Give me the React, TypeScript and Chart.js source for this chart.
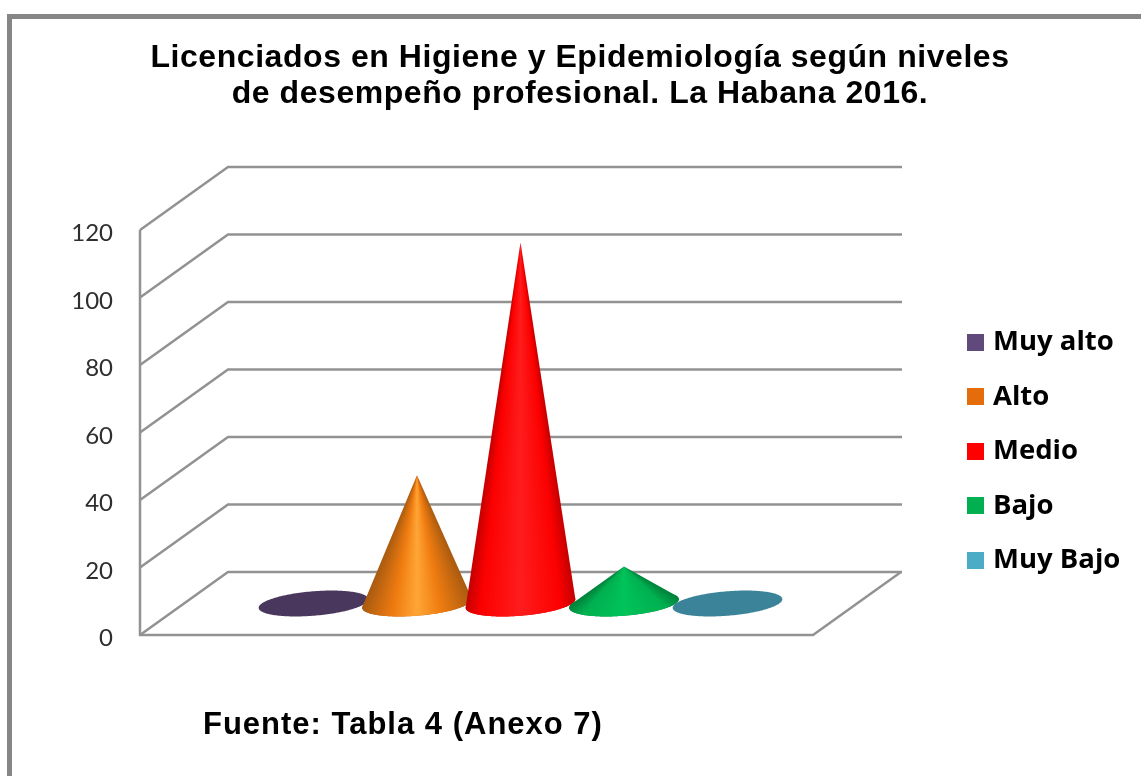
import React, { useEffect, useRef } from "react";
import { Chart, registerables } from "chart.js";

Chart.register(...registerables);

const titleLines = [
  "Licenciados en Higiene y Epidemiología según niveles",
  "de desempeño profesional. La Habana 2016.",
];
const sourceNote = "Fuente: Tabla 4 (Anexo 7)";
const categoryLabels = ["Nivel de desempeño"];
const seriesNames = ["Muy alto", "Alto", "Medio", "Bajo", "Muy Bajo"];
const seriesValues = [0, 38, 107, 11, 0];
const legendColors = ["#604a7b", "#e46c0a", "#ff0000", "#00b050", "#4bacc6"];
const floorColors = ["#4a375e", "#b85a0c", "#e00000", "#008a40", "#3a8399"];
const coneEdgeColors = ["#3c2c4e", "#a85a10", "#c40000", "#007f3a", "#2f6f80"];
const coneMidColors = ["#604a7b", "#f07c10", "#fc0000", "#00b050", "#4bacc6"];
const coneLightColors = ["#7a6396", "#ffa636", "#ff1c1c", "#00c45a", "#6cc4da"];
const coneMidStops = [0.3, 0.3, 0.14, 0.2, 0.3];

const DEPTH_X = 88;
const DEPTH_Y = -63;
const FLOOR_FRACTION = 0.206;

function swatch(color: string) {
  const c = document.createElement("canvas");
  c.width = 17;
  c.height = 17;
  const x = c.getContext("2d")!;
  x.fillStyle = color;
  x.fillRect(0, 0, 17, 17);
  return c;
}

let titleWrapped = new WeakSet<object>();

const scene = {
  id: "scene",
  beforeDraw(chart: any) {
    const { ctx, width } = chart;
    ctx.save();
    ctx.fillStyle = "#ffffff";
    ctx.fillRect(0, 0, width, chart.height);
    ctx.fillStyle = "#868686";
    ctx.fillRect(7, 14, width - 7, 5);
    ctx.fillRect(7, 14, 5, chart.height - 14);
    ctx.restore();
  },
  afterLayout(chart: any) {
    const title = chart.titleBlock;
    title.left = 19;
    title.right = 1141;
    if (!titleWrapped.has(title)) {
      titleWrapped.add(title);
      const original = title.draw;
      title.draw = function () {
        chart.ctx.letterSpacing = "0.55px";
        original.call(title);
        chart.ctx.letterSpacing = "0px";
      };
    }
    const pad = chart.legend.options.labels.padding;
    chart.legend.left = 971.75 - pad;
    chart.legend.right = 1141;
    chart.legend.top = 328.5 - pad;
    chart.legend.bottom = 776;
  },
  beforeDatasetsDraw(chart: any) {
    const { ctx, chartArea, scales } = chart;
    const { left, right, bottom, top } = chartArea;
    const y = scales.y;

    ctx.save();
    ctx.strokeStyle = "#929292";
    ctx.lineWidth = 2.5;
    ctx.lineJoin = "miter";
    ctx.beginPath();
    ctx.moveTo(left, top);
    ctx.lineTo(left, bottom);
    ctx.lineTo(right, bottom);
    ctx.lineTo(right + DEPTH_X, bottom + DEPTH_Y);
    ctx.stroke();
    y.ticks.forEach((t: any) => {
      const py = y.getPixelForValue(t.value);
      ctx.beginPath();
      ctx.moveTo(left, py);
      ctx.lineTo(left + DEPTH_X, py + DEPTH_Y);
      ctx.lineTo(right + DEPTH_X + 1, py + DEPTH_Y);
      ctx.stroke();
    });

    chart.data.datasets.forEach((ds: any, i: number) => {
      const bar = chart.getDatasetMeta(i).data[0];
      const v = ds.data[0];
      const cx = bar.x + DEPTH_X / 2;
      const cy = y.getPixelForValue(0) + DEPTH_Y / 2;
      const r = bar.width / 2;
      const m = -DEPTH_Y * FLOOR_FRACTION;
      const k = DEPTH_X * FLOOR_FRACTION;
      const pt = (t: number) => [
        cx + r * Math.cos(t) + k * Math.sin(t),
        cy - m * Math.sin(t),
      ];

      ctx.beginPath();
      for (let a = 0; a <= 180; a++) {
        const [px, py] = pt((a / 180) * Math.PI * 2);
        if (a === 0) ctx.moveTo(px, py);
        else ctx.lineTo(px, py);
      }
      ctx.closePath();
      ctx.fillStyle = floorColors[i];
      ctx.fill();

      if (v <= 0) return;
      const ax = cx;
      const ay = y.getPixelForValue(v) + DEPTH_Y / 2;
      let minA = Infinity, maxA = -Infinity, tR = 0, tL = 0;
      for (let a = 0; a < 1440; a++) {
        const t = (a / 1440) * Math.PI * 2;
        const [px, py] = pt(t);
        const ang = Math.atan2(py - ay, px - ax);
        if (ang < minA) { minA = ang; tR = t; }
        if (ang > maxA) { maxA = ang; tL = t; }
      }
      let span = tR - tL;
      if (span < 0) span += Math.PI * 2;
      ctx.beginPath();
      ctx.moveTo(ax, ay);
      for (let s = 0; s <= 120; s++) {
        const [px, py] = pt(tL + (span * s) / 120);
        ctx.lineTo(px, py);
      }
      ctx.closePath();
      const g = ctx.createConicGradient(minA, ax, ay);
      const [rx, ry] = pt(tR);
      const [lx, ly] = pt(tL);
      const stopAt = (s: number) =>
        (Math.atan2(ry + (ly - ry) * s - ay, rx + (lx - rx) * s - ax) - minA) / (Math.PI * 2);
      const mid = coneMidStops[i];
      g.addColorStop(0, coneEdgeColors[i]);
      g.addColorStop(stopAt(mid), coneMidColors[i]);
      g.addColorStop(stopAt(0.5), coneLightColors[i]);
      g.addColorStop(stopAt(1 - mid), coneMidColors[i]);
      g.addColorStop(stopAt(1), coneEdgeColors[i]);
      ctx.fillStyle = g;
      ctx.fill();
    });

    ctx.fillStyle = "#000000";
    ctx.font = "bold 31px 'Liberation Sans'";
    (ctx as any).letterSpacing = "1px";
    ctx.textAlign = "left";
    ctx.textBaseline = "alphabetic";
    ctx.fillText(sourceNote, 203, 734);
    (ctx as any).letterSpacing = "0px";
    ctx.restore();
    return false;
  },
};

export default function App() {
  const ref = useRef<HTMLCanvasElement>(null);
  useEffect(() => {
    const chart = new Chart(ref.current!, {
      type: "bar",
      data: {
        labels: categoryLabels,
        datasets: seriesNames.map((name, i) => ({
          label: name,
          data: [seriesValues[i]],
          backgroundColor: legendColors[i],
          categoryPercentage: 0.769,
          barPercentage: 1,
        })),
      },
      options: {
        responsive: false,
        animation: false,
        layout: { padding: { left: 19, right: 328, top: 0, bottom: 141 } },
        scales: {
          x: { display: false },
          y: {
            min: 0,
            max: 120,
            ticks: {
              stepSize: 20,
              padding: 27,
              labelOffset: 3.5,
              color: "#2e2e2e",
              font: { family: "Lato", size: 24 },
            },
            border: { display: false },
            grid: { display: false, drawTicks: false },
            afterFit(s: any) {
              s.width = 121;
            },
          },
        },
        plugins: {
          tooltip: { enabled: false },
          title: {
            display: true,
            text: titleLines,
            color: "#000000",
            font: { family: "Liberation Sans", size: 32, weight: "bold", lineHeight: 36 / 32 },
            padding: { top: 40, bottom: 118 },
          },
          legend: {
            display: true,
            position: "chartArea",
            align: "start",
            labels: {
              color: "#000000",
              font: { family: "Open Sans", size: 27.5, weight: "bold" },
              boxWidth: 7.5,
              boxHeight: 11,
              padding: 27,
              usePointStyle: true,
              generateLabels(c: any) {
                return Chart.defaults.plugins.legend.labels
                  .generateLabels(c)
                  .map((it: any, i: number) => ({ ...it, pointStyle: swatch(legendColors[i]) }));
              },
            },
          },
        },
      } as any,
      plugins: [scene as any],
    });
    return () => chart.destroy();
  }, []);
  return (
    <canvas
      ref={ref}
      width={1141}
      height={776}
      style={{ position: "absolute", left: 0, top: 0, width: 1141, height: 776, display: "block", filter: "blur(0.5px)" }}
    />
  );
}
